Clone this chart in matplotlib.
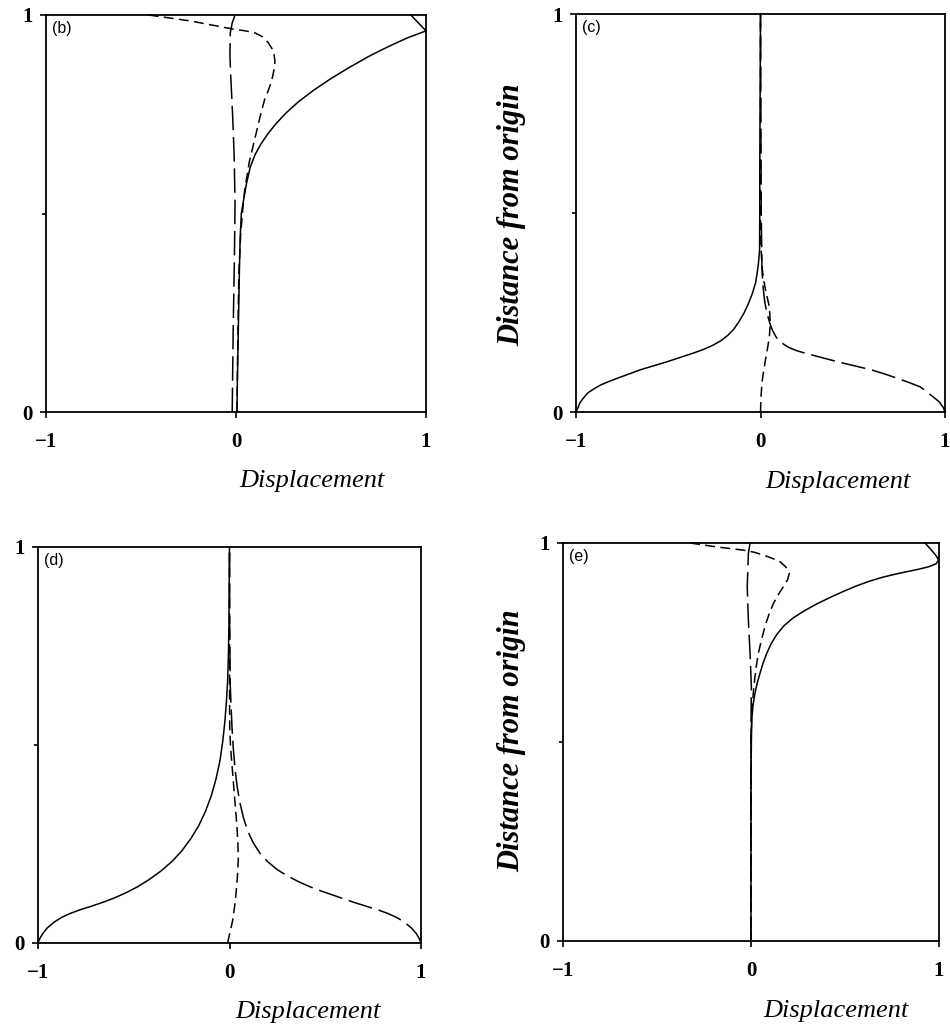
import matplotlib
matplotlib.use("Agg")
import matplotlib.pyplot as plt
import matplotlib.transforms as mtransforms

# ---- panel (b) ----
b_solid_y = [0.00, 0.10, 0.20, 0.28, 0.36, 0.44, 0.50, 0.534, 0.575, 0.617, 0.648, 0.674, 0.699, 0.726, 0.754,
             0.782, 0.811, 0.840, 0.869, 0.896, 0.920, 0.942, 0.960, 0.980, 1.00]
b_solid_x = [0.005, 0.008, 0.012, 0.015, 0.018, 0.022, 0.028, 0.04, 0.055, 0.075, 0.10, 0.13, 0.165, 0.21, 0.265,
             0.33, 0.41, 0.50, 0.60, 0.70, 0.80, 0.90, 1.00, 0.96, 0.92]
b_long_y = [0.00, 0.20, 0.40, 0.53, 0.65, 0.75, 0.85, 0.90, 0.955, 0.98, 1.00]
b_long_x = [-0.02, -0.015, -0.008, -0.005, -0.01, -0.018, -0.028, -0.032, -0.03, -0.02, -0.005]
b_short_y = [1.00, 0.985, 0.965, 0.96, 0.955, 0.945, 0.93, 0.915, 0.90, 0.885, 0.87, 0.85, 0.83, 0.81, 0.786,
             0.75, 0.72, 0.69, 0.66, 0.63, 0.60, 0.567, 0.534, 0.49, 0.45, 0.35, 0.20, 0.00]
b_short_x = [-0.46, -0.24, -0.02, 0.05, 0.10, 0.14, 0.17, 0.19, 0.20, 0.205, 0.203, 0.195, 0.185, 0.17, 0.15,
             0.13, 0.115, 0.10, 0.085, 0.07, 0.06, 0.048, 0.04, 0.032, 0.025, 0.015, 0.01, 0.005]

# ---- panel (c) ----
c_solid_y = [0.00, 0.01, 0.022, 0.035, 0.048, 0.059, 0.068, 0.077, 0.085, 0.096, 0.106, 0.116, 0.126, 0.137,
             0.148, 0.157, 0.168, 0.179, 0.193, 0.208, 0.226, 0.248, 0.274, 0.298, 0.324, 0.349, 0.374, 0.407,
             0.50, 0.60, 1.00]
c_solid_x = [-1.00, -0.99, -0.98, -0.96, -0.936, -0.90, -0.866, -0.82, -0.775, -0.71, -0.652, -0.58, -0.508, -0.436,
             -0.364, -0.31, -0.257, -0.215, -0.176, -0.145, -0.118, -0.09, -0.064, -0.044, -0.027, -0.018, -0.011,
             -0.005, -0.004, -0.004, 0.0]
c_long_y = [0.00, 0.012, 0.025, 0.038, 0.051, 0.063, 0.075, 0.085, 0.096, 0.106, 0.116, 0.126, 0.137, 0.148, 0.155,
            0.163, 0.175, 0.188, 0.205, 0.224, 0.248, 0.274, 0.30, 0.324, 0.36, 0.50, 1.00]
c_long_x = [1.00, 0.99, 0.97, 0.936, 0.90, 0.866, 0.80, 0.74, 0.67, 0.60, 0.51, 0.42, 0.33, 0.24, 0.19,
            0.15, 0.11, 0.085, 0.065, 0.05, 0.035, 0.024, 0.017, 0.012, 0.008, 0.004, 0.0]
c_short_y = [0.00, 0.04, 0.073, 0.10, 0.131, 0.16, 0.188, 0.224, 0.264, 0.285, 0.307, 0.33, 0.357, 0.40, 0.45, 1.00]
c_short_x = [0.0, 0.003, 0.008, 0.016, 0.027, 0.038, 0.048, 0.053, 0.048, 0.038, 0.027, 0.018, 0.01, 0.004, 0.0, 0.0]

# ---- panel (d) ----
d_solid_y = [0.00, 0.012, 0.024, 0.039, 0.053, 0.065, 0.075, 0.084, 0.093, 0.103, 0.114, 0.127, 0.142, 0.160,
             0.181, 0.206, 0.232, 0.265, 0.297, 0.333, 0.372, 0.415, 0.46, 0.51, 0.56, 0.61, 0.66, 0.72, 0.80, 1.00]
d_solid_x = [-1.00, -0.99, -0.975, -0.95, -0.915, -0.875, -0.83, -0.78, -0.72, -0.66, -0.60, -0.54, -0.48, -0.42,
             -0.36, -0.30, -0.25, -0.20, -0.16, -0.125, -0.095, -0.07, -0.05, -0.035, -0.024, -0.016, -0.01,
             -0.006, -0.003, 0.0]
d_long_y = [0.00, 0.012, 0.024, 0.038, 0.052, 0.064, 0.074, 0.083, 0.092, 0.101, 0.111, 0.121, 0.131, 0.142, 0.155,
            0.17, 0.185, 0.205, 0.226, 0.252, 0.283, 0.318, 0.355, 0.395, 0.44, 0.49, 0.545, 0.60, 0.65, 0.80, 1.00]
d_long_x = [1.00, 0.99, 0.975, 0.95, 0.915, 0.875, 0.83, 0.78, 0.72, 0.66, 0.60, 0.54, 0.48, 0.42, 0.36,
            0.30, 0.25, 0.20, 0.16, 0.125, 0.095, 0.072, 0.054, 0.04, 0.029, 0.02, 0.013, 0.008, 0.004, 0.001, 0.0]
d_short_y = [0.00, 0.03, 0.058, 0.09, 0.125, 0.165, 0.21, 0.25, 0.293, 0.335, 0.377, 0.42, 0.461, 0.50, 0.545,
             0.70, 1.00]
d_short_x = [-0.01, 0.004, 0.017, 0.026, 0.034, 0.041, 0.046, 0.044, 0.039, 0.032, 0.025, 0.018, 0.011, 0.005,
             0.001, 0.0, 0.0]

# ---- panel (e) ----
e_solid_y = [0.00, 0.20, 0.40, 0.50, 0.555, 0.59, 0.622, 0.648, 0.673, 0.698, 0.722, 0.747, 0.77, 0.792, 0.812,
             0.83, 0.847, 0.863, 0.878, 0.892, 0.904, 0.914, 0.922, 0.929, 0.935, 0.941, 0.948, 0.957, 0.968,
             0.982, 1.00]
e_solid_x = [0.00, 0.0, 0.0, 0.002, 0.004, 0.01, 0.021, 0.033, 0.048, 0.064, 0.083, 0.107, 0.137, 0.175, 0.225,
             0.285, 0.35, 0.42, 0.49, 0.56, 0.63, 0.70, 0.77, 0.84, 0.90, 0.95, 0.985, 0.998, 0.985, 0.96, 0.926]
e_long_y = [0.00, 0.30, 0.55, 0.639, 0.723, 0.806, 0.89, 0.974, 1.00]
e_long_x = [0.0, 0.0, 0.0, 0.002, -0.005, -0.014, -0.02, -0.014, -0.005]
e_short_y = [1.00, 0.99, 0.982, 0.977, 0.97, 0.962, 0.953, 0.94, 0.924, 0.908, 0.89, 0.87, 0.848, 0.82, 0.79,
             0.755, 0.723, 0.693, 0.664, 0.622, 0.58, 0.50, 0.00]
e_short_x = [-0.324, -0.18, -0.04, 0.015, 0.065, 0.11, 0.154, 0.185, 0.204, 0.195, 0.172, 0.145, 0.119, 0.095,
             0.074, 0.055, 0.039, 0.029, 0.021, 0.012, 0.005, 0.0, 0.0]

x_ticks = [-1, 0, 1]
x_ticklabels = ["\u22121", "0", "1"]
y_ticks = [0, 1]
y_ticklabels = ["0", "1"]
x_label = "Displacement"
y_label = "Distance from origin"

SERIF = "Liberation Serif"
LW = 1.1
LONG_DASH = (16, 4.5)
SHORT_DASH = (6.5, 3.5)

fig = plt.figure(figsize=(9.5, 10.3), dpi=100)
W, H = 950.0, 1030.0


def make_axes(left, top, right, bottom):
    return fig.add_axes([left / W, 1 - bottom / H, (right - left) / W, (bottom - top) / H])


panels = [
    ("(b)", make_axes(46, 15, 426, 412), (b_solid_x, b_solid_y), (b_long_x, b_long_y), (b_short_x, b_short_y), 0.40),
    ("(c)", make_axes(576, 14, 945, 412), (c_solid_x, c_solid_y), (c_long_x, c_long_y), (c_short_x, c_short_y), 0.42),
    ("(d)", make_axes(38, 547, 421, 943), (d_solid_x, d_solid_y), (d_long_x, d_long_y), (d_short_x, d_short_y), 0.41),
    ("(e)", make_axes(563, 543, 939, 941), (e_solid_x, e_solid_y), (e_long_x, e_long_y), (e_short_x, e_short_y), 0.45),
]

for tag, ax, solid, long_d, short_d, xl_pos in panels:
    ax.plot(solid[0], solid[1], color="black", lw=LW, clip_on=False, solid_joinstyle="round")
    ax.plot(long_d[0], long_d[1], color="black", lw=LW, dashes=LONG_DASH, clip_on=False)
    ax.plot(short_d[0], short_d[1], color="black", lw=LW, dashes=SHORT_DASH, clip_on=False)

    ax.set_xlim(-1, 1)
    ax.set_ylim(0, 1)
    for sp in ax.spines.values():
        sp.set_linewidth(1.3)

    ax.set_xticks(x_ticks)
    ax.set_xticklabels(x_ticklabels, fontfamily=SERIF, fontweight="bold", fontsize=15)
    ax.set_yticks(y_ticks)
    ax.set_yticklabels(y_ticklabels, fontfamily=SERIF, fontweight="bold", fontsize=15)
    ax.set_yticks([0.5], minor=True)
    ax.tick_params(axis="x", which="major", direction="out", length=4.5, width=1.2, pad=10,
                   top=False, bottom=True)
    ax.tick_params(axis="y", which="major", direction="out", length=4.5, width=1.2, pad=5,
                   left=True, right=False)
    ax.tick_params(axis="y", which="minor", direction="out", length=3, width=1.2, left=True, right=False)

    ax.text(0.015, 0.985, tag, transform=ax.transAxes, ha="left", va="top",
            fontfamily="Liberation Sans", fontsize=11.5)

    trans = mtransforms.blended_transform_factory(ax.transData, ax.transAxes)
    ax.text(xl_pos, -0.175, x_label, transform=trans, ha="center", va="center",
            fontfamily=SERIF, fontstyle="italic", fontsize=19)

# vertical labels beside the right-hand panels
fig.text(512 / W, 1 - 215 / H, y_label, rotation=90, ha="center", va="center",
         fontfamily=SERIF, fontstyle="italic", fontweight="bold", fontsize=22)
fig.text(512 / W, 1 - 741 / H, y_label, rotation=90, ha="center", va="center",
         fontfamily=SERIF, fontstyle="italic", fontweight="bold", fontsize=22)

fig.savefig("out.png", dpi=100, facecolor="white")
